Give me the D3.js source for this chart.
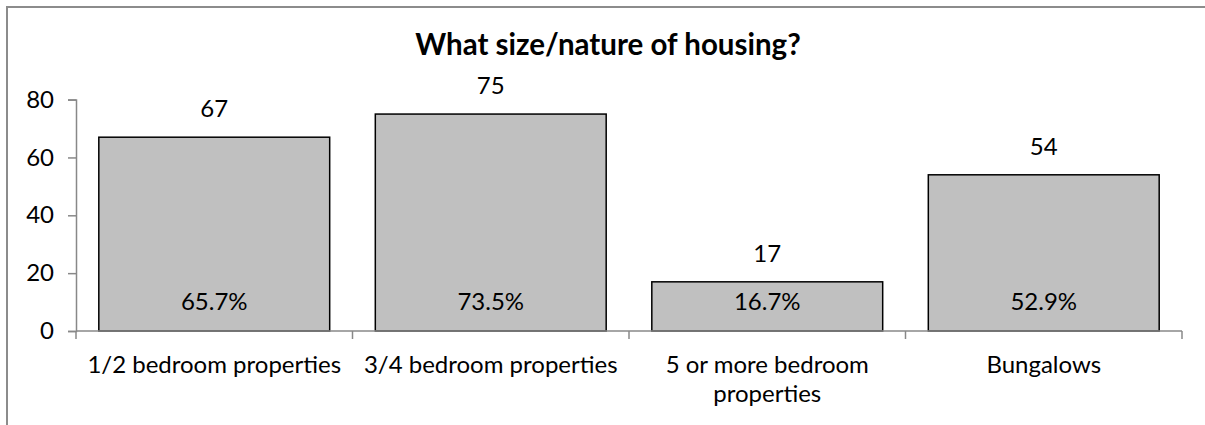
<!DOCTYPE html>
<html>
<head>
<meta charset="utf-8">
<script src="https://cdn.jsdelivr.net/npm/d3@7"></script>
<style>
  html, body { margin: 0; padding: 0; background: #fff; overflow: hidden; }
  svg { display: block; font-family: Lato, "Open Sans", sans-serif; }
</style>
</head>
<body>
<svg id="chart" width="1205" height="425"></svg>
<script>
const title = "What size/nature of housing?";
const categories = ["1/2 bedroom properties", "3/4 bedroom properties", "5 or more bedroom properties", "Bungalows"];
const counts = [67, 75, 17, 54];
const percents = ["65.7%", "73.5%", "16.7%", "52.9%"];
const yTicks = [0, 20, 40, 60, 80];

const svg = d3.select("#chart");
const W = 1205, H = 425;

// outer border (top and left edges visible in the frame)
svg.append("path")
  .attr("d", `M7,${H + 5}V7H${W + 5}`)
  .attr("fill", "none").attr("stroke", "#8c8c8c").attr("stroke-width", 2);

const x = d3.scaleBand().domain(categories).range([76, 1182])
  .paddingInner(0.165).paddingOuter(0.0825);
const y = d3.scaleLinear().domain([0, 80]).range([331, 99.6]);

const axisColor = "#888";

// title
svg.append("text")
  .attr("x", 608).attr("y", 55)
  .attr("text-anchor", "middle")
  .attr("font-size", 29.5).attr("font-weight", "bold")
  .attr("fill", "#000")
  .text(title);

// y axis
const yAxis = d3.axisLeft(y).tickValues(yTicks).tickSize(8).tickPadding(14);
const gy = svg.append("g").attr("transform", "translate(76,0)").call(yAxis);
gy.select(".domain").attr("stroke", axisColor).attr("stroke-width", 1.5);
gy.selectAll(".tick line").attr("stroke", axisColor).attr("stroke-width", 1.5);
gy.selectAll(".tick text").attr("font-size", 24).attr("fill", "#000")
  .attr("font-family", "Lato, 'Open Sans', sans-serif");

// bars
svg.append("g").selectAll("rect").data(categories).join("rect")
  .attr("x", d => x(d))
  .attr("y", (d, i) => y(counts[i]))
  .attr("width", x.bandwidth())
  .attr("height", (d, i) => y(0) - y(counts[i]))
  .attr("fill", "#c0c0c0")
  .attr("stroke", "#000").attr("stroke-width", 1.5);

// x axis line
const step = x.step();
const boundaries = categories.map(c => x(c) - step * x.paddingInner() / 2).concat([x.range()[1]]);
svg.append("line")
  .attr("x1", 76).attr("x2", 1182).attr("y1", y(0)).attr("y2", y(0))
  .attr("stroke", axisColor).attr("stroke-width", 1.5);
svg.append("g").selectAll("line").data(boundaries).join("line")
  .attr("x1", d => d).attr("x2", d => d)
  .attr("y1", y(0)).attr("y2", y(0) + 8)
  .attr("stroke", axisColor).attr("stroke-width", 1.5);

// value labels
svg.append("g").selectAll("text").data(categories).join("text")
  .attr("x", d => x(d) + x.bandwidth() / 2)
  .attr("y", (d, i) => y(counts[i]) - 20)
  .attr("text-anchor", "middle").attr("font-size", 24).attr("fill", "#000")
  .text((d, i) => counts[i]);

// percent labels
svg.append("g").selectAll("text").data(categories).join("text")
  .attr("x", d => x(d) + x.bandwidth() / 2)
  .attr("y", y(0) - 21)
  .attr("text-anchor", "middle").attr("font-size", 24).attr("fill", "#000")
  .text((d, i) => percents[i]);

// category labels with wrapping
const maxW = 268;
const gx = svg.append("g");
categories.forEach(c => {
  const cx = x(c) + x.bandwidth() / 2;
  const t = gx.append("text").attr("text-anchor", "middle").attr("font-size", 24).attr("fill", "#000");
  const words = c.split(" ");
  let lines = [], line = [];
  const probe = t.append("tspan");
  words.forEach(w => {
    line.push(w);
    probe.text(line.join(" "));
    if (probe.node().getComputedTextLength() > maxW && line.length > 1) {
      line.pop();
      lines.push(line.join(" "));
      line = [w];
    }
  });
  lines.push(line.join(" "));
  probe.remove();
  lines.forEach((l, i) => {
    t.append("tspan").attr("x", cx).attr("y", 373 + i * 29).text(l);
  });
});
</script>
</body>
</html>
